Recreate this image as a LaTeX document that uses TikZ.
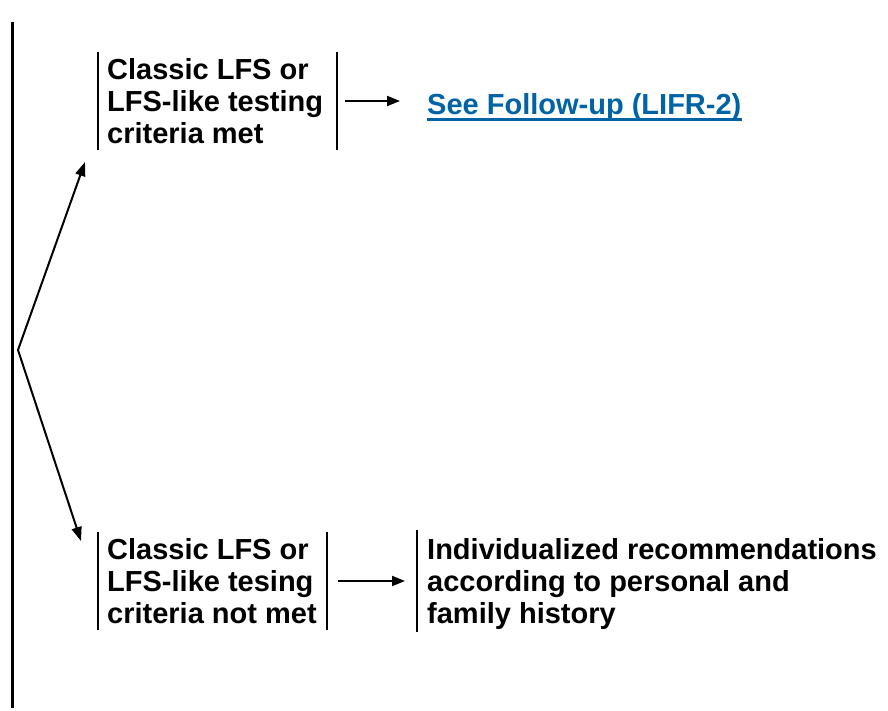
\documentclass[tikz,border=0pt]{standalone}
\usepackage{fontspec}
\setmainfont{Liberation Sans}
\usetikzlibrary{arrows.meta}
\definecolor{linkblue}{RGB}{0,99,166}
\begin{document}
\begin{tikzpicture}[x=1pt,y=1pt,
  txt/.style={inner sep=0pt, align=left, anchor=west,
    font=\bfseries\fontsize{29pt}{32pt}\selectfont},
  bar/.style={line width=2.4pt},
  conn/.style={line width=2pt, -{Triangle[length=13pt,width=10pt]}},
  branch/.style={line width=2pt, -{Triangle[length=14pt,width=10pt]}}]
\useasboundingbox (0,0) rectangle (888,-711);
% main vertical line
\coordinate (vtop) at (12,-22);
\coordinate (vbot) at (12,-708);
\draw[line width=3pt] (vtop) -- (vbot);
% fork
\coordinate (fork) at (18,-350);
\coordinate (up) at (85,-162);
\coordinate (dn) at (81,-541);
\draw[branch] (fork) -- (up);
\draw[branch] (fork) -- (dn);
% top box
\node[txt] (met) at (107,-101) {Classic LFS or\\LFS-like testing\\criteria met};
\coordinate (metL) at (98,-101);
\coordinate (metR) at (337,-101);
\draw[bar] ([yshift=49pt]metL) -- ([yshift=-49pt]metL);
\draw[bar] ([yshift=49pt]metR) -- ([yshift=-49pt]metR);
% link
\node[txt, anchor=base west, text=linkblue] (link) at (427,-115) {See Follow-up (LIFR-2)};
\draw[linkblue, line width=2.4pt] ([yshift=-4.5pt]link.base west) -- ([yshift=-4.5pt]link.base east);
\draw[conn] ([xshift=8pt]metR) -- ([xshift=-27pt]link.west |- metR);
% bottom box
\node[txt] (notmet) at (107,-581) {Classic LFS or\\LFS-like tesing\\criteria not met};
\coordinate (nmL) at (98,-581);
\coordinate (nmR) at (327,-581);
\draw[bar] ([yshift=49pt]nmL) -- ([yshift=-49pt]nmL);
\draw[bar] ([yshift=49pt]nmR) -- ([yshift=-49pt]nmR);
% individualized
\node[txt] (indiv) at (427,-584) {Individualized recommendations\\according to personal and\\family history};
\coordinate (indL) at (417,-581);
\draw[bar] ([yshift=51pt]indL) -- ([yshift=-51pt]indL);
\draw[conn] ([xshift=11pt]nmR) -- ([xshift=-12pt]indL);
\end{tikzpicture}
\end{document}
